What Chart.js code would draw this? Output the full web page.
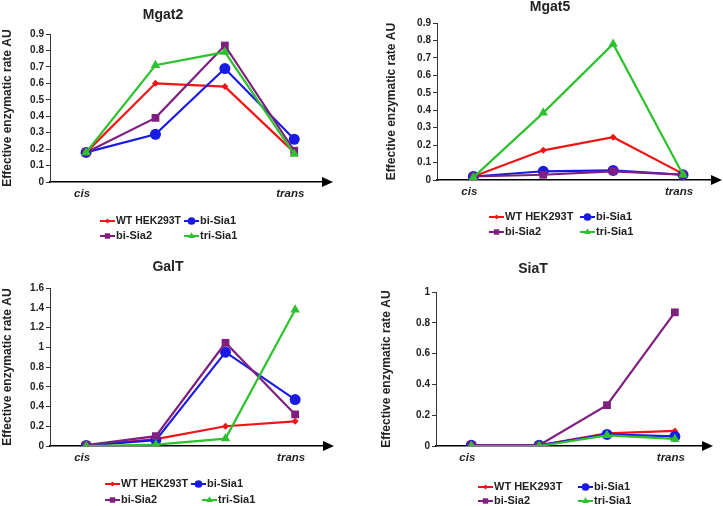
<!DOCTYPE html>
<html>
<head>
<meta charset="utf-8">
<script src="https://cdn.jsdelivr.net/npm/chart.js@4"></script>
<style>
body { margin: 0; background: #fff; width: 723px; height: 506px; overflow: hidden; position: relative; }
canvas { position: absolute; }
</style>
</head>
<body>
<canvas id="mgat2" width="360" height="250" style="left:0;top:0"></canvas>
<canvas id="mgat5" width="363" height="250" style="left:360px;top:0"></canvas>
<canvas id="galt" width="360" height="256" style="left:0;top:250px"></canvas>
<canvas id="siat" width="363" height="256" style="left:360px;top:250px"></canvas>
<script>
const stageLabels = ['cis', '', '', 'trans'];
const seriesLabels = ['WT HEK293T', 'bi-Sia1', 'bi-Sia2', 'tri-Sia1'];

const mgat2Wt = [0.18, 0.60, 0.58, 0.18];
const mgat2BiSia1 = [0.18, 0.29, 0.69, 0.26];
const mgat2BiSia2 = [0.18, 0.39, 0.83, 0.19];
const mgat2TriSia1 = [0.18, 0.71, 0.79, 0.17];
const mgat2Ticks = [0, 0.1, 0.2, 0.3, 0.4, 0.5, 0.6, 0.7, 0.8, 0.9];

const mgat5Wt = [0.02, 0.17, 0.245, 0.035];
const mgat5BiSia1 = [0.02, 0.05, 0.055, 0.03];
const mgat5BiSia2 = [0.02, 0.03, 0.05, 0.03];
const mgat5TriSia1 = [0.015, 0.385, 0.78, 0.03];
const mgat5Ticks = [0, 0.1, 0.2, 0.3, 0.4, 0.5, 0.6, 0.7, 0.8, 0.9];

const galtWt = [0.005, 0.07, 0.2, 0.25];
const galtBiSia1 = [0.005, 0.06, 0.95, 0.47];
const galtBiSia2 = [0.01, 0.1, 1.045, 0.32];
const galtTriSia1 = [0.0, 0.014, 0.075, 1.38];
const galtTicks = [0, 0.2, 0.4, 0.6, 0.8, 1, 1.2, 1.4, 1.6];

const siatWt = [0.005, 0.005, 0.082, 0.098];
const siatBiSia1 = [0.005, 0.005, 0.075, 0.062];
const siatBiSia2 = [0.005, 0.005, 0.265, 0.868];
const siatTriSia1 = [0.0, 0.0, 0.069, 0.046];
const siatTicks = [0, 0.2, 0.4, 0.6, 0.8, 1];

const colors = ['#f01414', '#1a1ae6', '#7f1f7f', '#2dc22d'];
const pointStyles = ['rectRot', 'circle', 'rect', 'triangle'];
const pointSizes = [3.5, 5.5, 5.5, 5.5];
const fontFamily = '"Liberation Sans", Arial, sans-serif';

function makeDatasets(rows) {
    return rows.map((vals, i) => ({
        label: seriesLabels[i],
        data: vals.map((v, k) => ({ x: k, y: v })),
        borderColor: colors[i],
        backgroundColor: colors[i],
        pointBackgroundColor: colors[i],
        pointBorderColor: colors[i],
        pointStyle: pointStyles[i],
        pointRadius: pointSizes[i],
        pointBorderWidth: 0,
        borderWidth: 2.2,
        order: 3 - i
    }));
}

// arrow on the x axis, panel title and the two-row legend
const decor = {
    id: 'decor',
    afterDraw(chart, args, opts) {
        const { ctx, chartArea } = chart;
        ctx.save();
        ctx.fillStyle = '#000';
        ctx.beginPath();
        ctx.moveTo(chartArea.right, chartArea.bottom - 5);
        ctx.lineTo(chartArea.right + 11, chartArea.bottom);
        ctx.lineTo(chartArea.right, chartArea.bottom + 5);
        ctx.closePath();
        ctx.fill();

        ctx.fillStyle = '#222';
        ctx.font = 'bold 14px ' + fontFamily;
        ctx.textAlign = 'center';
        ctx.textBaseline = 'middle';
        ctx.fillText(opts.title, opts.titleX, opts.titleY);

        const lg = opts.legend;
        ctx.font = 'bold 11px ' + fontFamily;
        ctx.textAlign = 'left';
        chart.data.datasets.forEach((ds, i) => {
            const row = Math.floor(i / 2), col = i % 2;
            const x2 = row === 0 ? lg.x2a : lg.x2b;
            const x = col === 0 ? lg.x1 : x2;
            const y = row === 0 ? lg.y1 : lg.y2;
            ctx.strokeStyle = ds.borderColor;
            ctx.lineWidth = 2;
            ctx.beginPath();
            ctx.moveTo(x, y);
            ctx.lineTo(x + 15, y);
            ctx.stroke();
            ctx.fillStyle = ds.borderColor;
            Chart.helpers.drawPoint(ctx, { pointStyle: ds.pointStyle, radius: ds.pointRadius * 0.7, rotation: 0, borderWidth: 0 }, x + 7.5, y);
            ctx.fillStyle = '#222';
            const room = col === 0 ? x2 - x - 19 : 80;
            ctx.fillText(ds.label, x + 16, y, room);
        });
        ctx.restore();
    }
};

function drawPanel(p) {
    const canvas = document.getElementById(p.id);
    const padLeft = p.yTitleX - 7.2;
    new Chart(canvas, {
        type: 'line',
        data: { datasets: makeDatasets(p.rows) },
        options: {
            responsive: false,
            animation: false,
            devicePixelRatio: 1,
            layout: { padding: { left: padLeft, top: p.yTop, right: canvas.width - p.right, bottom: canvas.height - p.y0 - 24 } },
            plugins: {
                legend: { display: false },
                tooltip: { enabled: false },
                decor: { title: p.title, titleX: p.titleX, titleY: p.titleY, legend: p.legend }
            },
            scales: {
                x: {
                    type: 'linear',
                    min: -0.52,
                    max: 3.4,
                    afterBuildTicks: s => { s.ticks = [{ value: 0 }, { value: 3 }]; },
                    afterFit: s => { s.height = 24; },
                    grid: { display: false, drawTicks: false },
                    border: { color: '#000', width: 1.5 },
                    ticks: {
                        callback: v => stageLabels[v],
                        font: { family: fontFamily, size: 11.5, weight: 'bold', style: 'italic' },
                        color: '#222',
                        padding: 5,
                        labelOffset: -4,
                        maxRotation: 0,
                        autoSkip: false
                    }
                },
                y: {
                    min: 0,
                    max: p.ticks[p.ticks.length - 1],
                    afterBuildTicks: s => { s.ticks = p.ticks.map(v => ({ value: v })); },
                    afterFit: s => { s.width = p.axisX - padLeft; },
                    grid: { drawOnChartArea: false, drawTicks: true, tickLength: 4, color: '#333' },
                    border: { color: '#333', width: 1 },
                    ticks: {
                        callback: v => String(+v.toFixed(2)),
                        font: { family: fontFamily, size: 10, weight: 'bold' },
                        color: '#222',
                        padding: 2
                    },
                    title: {
                        display: true,
                        text: 'Effective enzymatic rate AU',
                        font: { family: fontFamily, size: 12, weight: 'bold' },
                        color: '#222',
                        padding: 0
                    }
                }
            }
        },
        plugins: [decor]
    });
}

drawPanel({
    id: 'mgat2', title: 'Mgat2', titleX: 163, titleY: 15,
    rows: [mgat2Wt, mgat2BiSia1, mgat2BiSia2, mgat2TriSia1], ticks: mgat2Ticks,
    yTitleX: 8, axisX: 50, yTop: 34, y0: 182, right: 322,
    legend: { x1: 100, x2a: 184, x2b: 184, y1: 221, y2: 236 }
});
drawPanel({
    id: 'mgat5', title: 'Mgat5', titleX: 190, titleY: 7,
    rows: [mgat5Wt, mgat5BiSia1, mgat5BiSia2, mgat5TriSia1], ticks: mgat5Ticks,
    yTitleX: 32, axisX: 77, yTop: 23, y0: 180, right: 351,
    legend: { x1: 129, x2a: 220, x2b: 220, y1: 217, y2: 232 }
});
drawPanel({
    id: 'galt', title: 'GalT', titleX: 168, titleY: 17,
    rows: [galtWt, galtBiSia1, galtBiSia2, galtTriSia1], ticks: galtTicks,
    yTitleX: 8, axisX: 50, yTop: 38, y0: 196, right: 323,
    legend: { x1: 105, x2a: 191, x2b: 202, y1: 234, y2: 250 }
});
drawPanel({
    id: 'siat', title: 'SiaT', titleX: 173, titleY: 19,
    rows: [siatWt, siatBiSia1, siatBiSia2, siatTriSia1], ticks: siatTicks,
    yTitleX: 27, axisX: 76, yTop: 42, y0: 196, right: 342,
    legend: { x1: 118, x2a: 218, x2b: 218, y1: 237, y2: 251 }
});
</script>
</body>
</html>
